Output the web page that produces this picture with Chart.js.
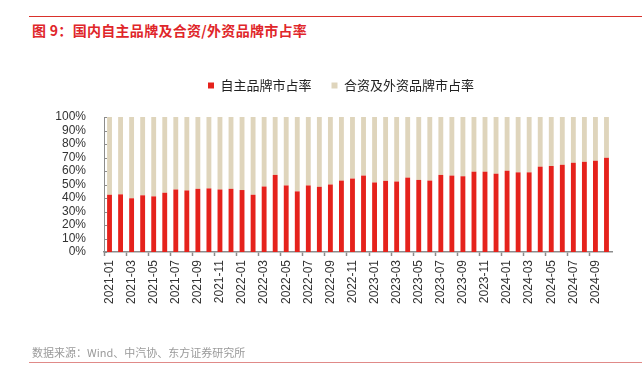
<!DOCTYPE html>
<html>
<head>
<meta charset="utf-8">
<script src="https://cdn.jsdelivr.net/npm/chart.js@4.4.1/dist/chart.umd.min.js"></script>
<style>
  html, body { margin: 0; padding: 0; background: #fff; }
  #wrap { position: relative; width: 642px; height: 383px; overflow: hidden; }
  #cv { position: absolute; left: 0; top: 0; }
  .topline { position: absolute; left: 29px; top: 16px; width: 613px; height: 0; border-top: 1.5px solid #D9312B; }
  .title { position: absolute; left: 32px; top: 20px; font: bold 14px "Noto Sans CJK SC", sans-serif; color: #E0262A; white-space: nowrap; letter-spacing: 0.3px; }
  .footer { position: absolute; left: 32px; top: 344px; font: 11px "Noto Sans CJK SC", sans-serif; color: #9a9a9a; white-space: nowrap; }
  .botline { position: absolute; left: 29px; top: 362px; width: 613px; height: 0; border-top: 1.5px solid #E08A88; }
</style>
</head>
<body>
<div id="wrap">
  <div class="topline"></div>
  <div class="title">图 9：国内自主品牌及合资/外资品牌市占率</div>
  <canvas id="cv" width="642" height="383"></canvas>
  <div class="footer">数据来源：Wind、中汽协、东方证券研究所</div>
  <div class="botline"></div>
</div>
<script>
const months = [
  "2021-01","2021-02","2021-03","2021-04","2021-05","2021-06","2021-07","2021-08","2021-09","2021-10","2021-11","2021-12",
  "2022-01","2022-02","2022-03","2022-04","2022-05","2022-06","2022-07","2022-08","2022-09","2022-10","2022-11","2022-12",
  "2023-01","2023-02","2023-03","2023-04","2023-05","2023-06","2023-07","2023-08","2023-09","2023-10","2023-11","2023-12",
  "2024-01","2024-02","2024-03","2024-04","2024-05","2024-06","2024-07","2024-08","2024-09","2024-10"
];
const domesticShare = [
  42.4, 42.7, 39.8, 42.0, 41.2, 43.9, 46.3, 45.6, 46.8, 47.1, 46.3, 46.8,
  45.9, 42.4, 48.5, 57.1, 49.3, 44.9, 49.3, 48.3, 50.0, 52.9, 54.4, 56.6,
  51.5, 52.7, 52.2, 55.1, 53.4, 52.9, 57.1, 56.6, 56.1, 59.5, 59.5, 58.0,
  60.2, 59.0, 59.0, 63.2, 63.7, 64.6, 66.1, 66.8, 67.6, 69.8
];
const jvForeignShare = [
  57.6, 57.3, 60.2, 58.0, 58.8, 56.1, 53.7, 54.4, 53.2, 52.9, 53.7, 53.2,
  54.1, 57.6, 51.5, 42.9, 50.7, 55.1, 50.7, 51.7, 50.0, 47.1, 45.6, 43.4,
  48.5, 47.3, 47.8, 44.9, 46.6, 47.1, 42.9, 43.4, 43.9, 40.5, 40.5, 42.0,
  39.8, 41.0, 41.0, 36.8, 36.3, 35.4, 33.9, 33.2, 32.4, 30.2
];
const seriesNames = ["自主品牌市占率", "合资及外资品牌市占率"];
const yTicks = [0, 10, 20, 30, 40, 50, 60, 70, 80, 90, 100];

const RED = "#E5221C";
const BEIGE = "#DFD5BC";
const AXIS = "#8c8c8c";

Chart.defaults.font.family = '"Liberation Sans", "Noto Sans CJK SC", Arial, sans-serif';
Chart.defaults.color = "#333";

const legendSpacer = {
  id: "legendSpacer",
  afterInit(chart) {
    const lg = chart.legend;
    if (!lg) return;
    const orig = lg.fit;
    lg.fit = function () { orig.call(this); this.height += 15; };
  }
};

const innerYTicks = {
  id: "innerYTicks",
  afterDraw(chart) {
    const y = chart.scales.y;
    const ctx = chart.ctx;
    ctx.save();
    ctx.strokeStyle = AXIS;
    ctx.lineWidth = 1;
    yTicks.forEach(v => {
      const py = Math.round(y.getPixelForValue(v)) + 0.5;
      ctx.beginPath();
      ctx.moveTo(chart.chartArea.left, py);
      ctx.lineTo(chart.chartArea.left + 3, py);
      ctx.stroke();
    });
    ctx.restore();
  }
};

new Chart(document.getElementById("cv"), {
  type: "bar",
  data: {
    labels: months,
    datasets: [
      { label: seriesNames[0], data: domesticShare, backgroundColor: RED, barPercentage: 0.44, categoryPercentage: 1.0 },
      { label: seriesNames[1], data: jvForeignShare, backgroundColor: BEIGE, barPercentage: 0.44, categoryPercentage: 1.0 }
    ]
  },
  plugins: [legendSpacer, innerYTicks],
  options: {
    responsive: false,
    animation: false,
    devicePixelRatio: 1,
    layout: { padding: { left: 40, right: 0, top: 59, bottom: 0 } },
    plugins: {
      legend: {
        display: true,
        position: "top",
        labels: {
          boxWidth: 6, boxHeight: 6, padding: 20,
          font: { size: 13, family: '"Noto Sans CJK SC", sans-serif' },
          color: "#222"
        }
      },
      tooltip: { enabled: false },
      title: { display: false }
    },
    scales: {
      x: {
        stacked: true,
        offset: true,
        grid: {
          display: true, drawOnChartArea: false, drawTicks: true, tickLength: 4, offset: true,
          tickColor: ctx => (ctx.index % 2 === 0 ? AXIS : "rgba(0,0,0,0)"),
          tickWidth: 1.5
        },
        border: { display: true, color: AXIS, width: 1.5 },
        ticks: {
          autoSkip: false, maxRotation: 90, minRotation: 90, padding: 4,
          font: { size: 12 }, color: "#333",
          callback: function (val, idx) { return idx % 2 === 0 ? this.getLabelForValue(val) : ""; }
        },
        afterFit(s) { s.height = 131; }
      },
      y: {
        stacked: true,
        min: 0, max: 100,
        afterBuildTicks(s) { s.ticks = yTicks.map(v => ({ value: v })); },
        grid: { display: false },
        border: { display: true, color: AXIS, width: 1 },
        ticks: { autoSkip: false, padding: 10, font: { size: 12 }, color: "#333", callback: v => v + "%" },
        afterFit(s) { s.width = 64; }
      },
      y2: {
        position: "right",
        display: true,
        min: 0, max: 1,
        grid: { display: false },
        border: { display: false },
        ticks: { display: false },
        afterFit(s) { s.width = 30; }
      }
    }
  }
});
</script>
</body>
</html>
